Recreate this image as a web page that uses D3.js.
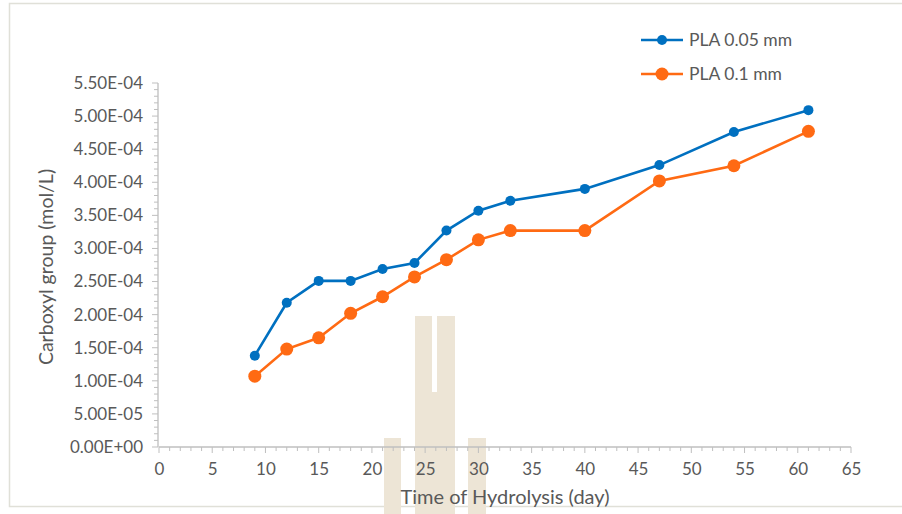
<!DOCTYPE html>
<html><head><meta charset="utf-8">
<script src="https://cdn.jsdelivr.net/npm/d3@7"></script>
<style>body{margin:0;background:#fff}svg{display:block}text{font-family:Lato,"Open Sans",sans-serif;fill:#595959}</style>
</head><body>
<script>
const days = [9,12,15,18,21,24,27,30,33,40,47,54,61];
const pla005 = [1.38e-4,2.18e-4,2.51e-4,2.51e-4,2.69e-4,2.78e-4,3.27e-4,3.57e-4,3.72e-4,3.90e-4,4.26e-4,4.76e-4,5.09e-4];
const pla01 = [1.07e-4,1.48e-4,1.65e-4,2.02e-4,2.27e-4,2.57e-4,2.83e-4,3.13e-4,3.27e-4,3.27e-4,4.02e-4,4.25e-4,4.77e-4];
const seriesNames = ["PLA 0.05 mm","PLA 0.1 mm"];
const xTicks = [0,5,10,15,20,25,30,35,40,45,50,55,60,65];
const yTicks = [0,0.5e-4,1e-4,1.5e-4,2e-4,2.5e-4,3e-4,3.5e-4,4e-4,4.5e-4,5e-4,5.5e-4];
const yTickLabels = ["0.00E+00","5.00E-05","1.00E-04","1.50E-04","2.00E-04","2.50E-04","3.00E-04","3.50E-04","4.00E-04","4.50E-04","5.00E-04","5.50E-04"];

const W=902,H=514;
const svg=d3.select("body").append("svg").attr("width",W).attr("height",H);
// frame
svg.append("rect").attr("x",9.5).attr("y",3.5).attr("width",900).attr("height",503).attr("fill","#fff").attr("stroke","#e0e0d8").attr("stroke-width",1.5);

// watermark
const wm=svg.append("g").attr("fill","#ede5d6");
wm.append("rect").attr("x",384).attr("y",438).attr("width",17).attr("height",76);
wm.append("rect").attr("x",415).attr("y",316).attr("width",17).attr("height",198);
wm.append("rect").attr("x",437).attr("y",316).attr("width",18).attr("height",198);
wm.append("rect").attr("x",432).attr("y",392).attr("width",5).attr("height",122);
wm.append("rect").attr("x",468).attr("y",438).attr("width",18).attr("height",76);

const x=d3.scaleLinear().domain([0,65]).range([159,851]);
const y=d3.scaleLinear().domain([0,5.5e-4]).range([447,83]);

// minor ticks x
const gx=svg.append("g");
d3.range(0,66,1).forEach(v=>{
  gx.append("line").attr("x1",x(v)).attr("x2",x(v)).attr("y1",447).attr("y2",v%5===0?453:451).attr("stroke","#bfbfbf").attr("stroke-width",1);
});
gx.append("line").attr("x1",x(0)).attr("x2",x(65)).attr("y1",447).attr("y2",447).attr("stroke","#bfbfbf").attr("stroke-width",1.3);
const xAxis=d3.axisBottom(x).tickValues(xTicks).tickSize(0).tickPadding(16);
svg.append("g").attr("transform","translate(0,447)").call(xAxis).call(g=>{g.select(".domain").remove();g.selectAll("text").style("font-size","17px").attr("fill","#595959").attr("font-family","Lato");});

// y minor ticks
const gy=svg.append("g");
d3.range(0,56,1).forEach(i=>{const v=i*1e-5;
  gy.append("line").attr("x1",i%5===0?152:154).attr("x2",158).attr("y1",y(v)).attr("y2",y(v)).attr("stroke","#bfbfbf").attr("stroke-width",1);
});
gy.append("line").attr("x1",158).attr("x2",158).attr("y1",y(0)).attr("y2",y(5.5e-4)).attr("stroke","#bfbfbf").attr("stroke-width",1.3);
const yAxis=d3.axisLeft(y).tickValues(yTicks).tickFormat((d,i)=>yTickLabels[i]).tickSize(0).tickPadding(15);
svg.append("g").attr("transform","translate(158,0)").call(yAxis).call(g=>{g.select(".domain").remove();g.selectAll("text").style("font-size","17px").attr("fill","#595959").attr("font-family","Lato");});

// axis titles
svg.append("text").attr("transform","translate(53,267) rotate(-90)").attr("text-anchor","middle").style("font-size","19.5px").text("Carboxyl group (mol/L)");
svg.append("text").attr("x",505).attr("y",504).attr("text-anchor","middle").style("font-size","20px").text("Time of Hydrolysis (day)");

const colors=["#0070c0","#ff6a13"];
const radii=[5,6.5];
const line=d3.line().x(d=>x(d[0])).y(d=>y(d[1]));
[pla005,pla01].forEach((vals,k)=>{
  const pts=days.map((d,i)=>[d,vals[i]]);
  svg.append("path").datum(pts).attr("d",line).attr("fill","none").attr("stroke",colors[k]).attr("stroke-width",2.6);
  svg.append("g").selectAll("circle").data(pts).join("circle").attr("cx",d=>x(d[0])).attr("cy",d=>y(d[1])).attr("r",radii[k]).attr("fill",colors[k]);
});

// legend
seriesNames.forEach((n,k)=>{
  const ly=40+k*34;
  svg.append("line").attr("x1",641).attr("x2",683).attr("y1",ly).attr("y2",ly).attr("stroke",colors[k]).attr("stroke-width",2.6);
  svg.append("circle").attr("cx",662).attr("cy",ly).attr("r",radii[k]).attr("fill",colors[k]);
  svg.append("text").attr("x",689).attr("y",ly).attr("dy","0.35em").style("font-size","17.5px").text(n);
});
</script>
</body></html>
